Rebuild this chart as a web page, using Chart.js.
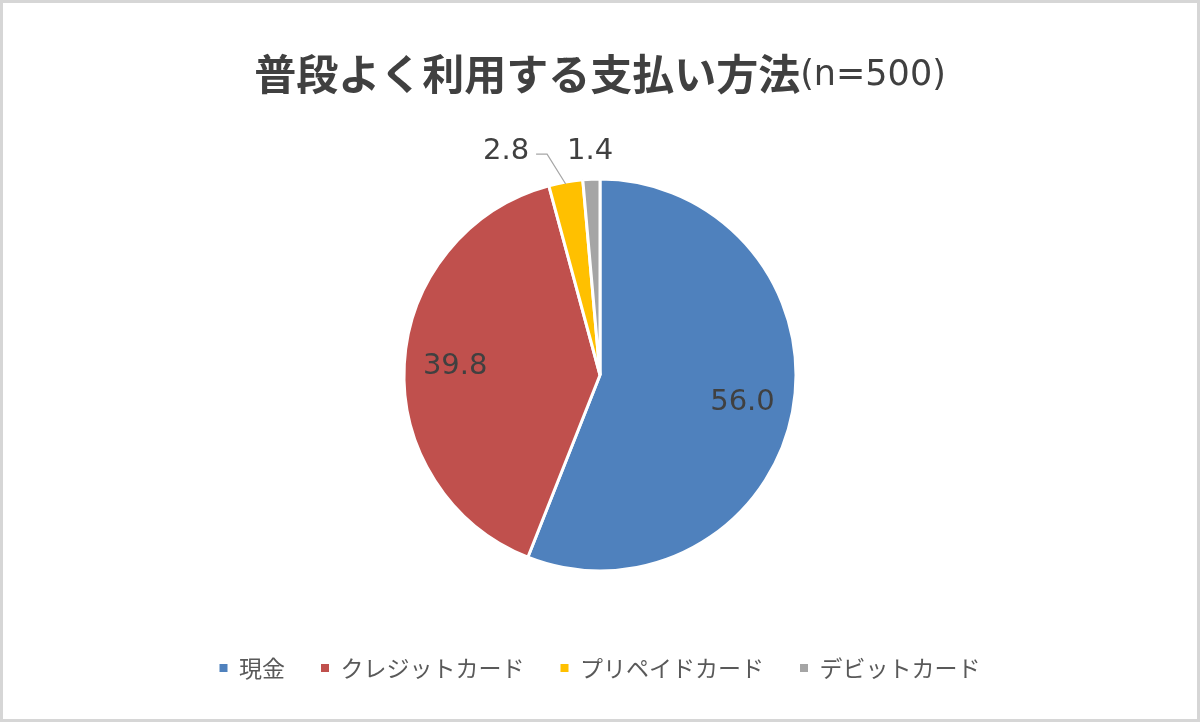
<!DOCTYPE html>
<html><head><meta charset="utf-8">
<script src="https://cdn.jsdelivr.net/npm/chart.js@4/dist/chart.umd.min.js"></script>
<style>html,body{margin:0;padding:0;background:#fff}canvas{display:block}</style>
</head><body>
<canvas id="c" width="1200" height="722"></canvas>
<script>
const titleMain = '普段よく利用する支払い方法';
const titleSub = '(n=500)';
const categories = ['現金', 'クレジットカード', 'プリペイドカード', 'デビットカード'];
const values = [56.0, 39.8, 2.8, 1.4];
const valueLabels = ['56.0', '39.8', '2.8', '1.4'];
const colors = ['#4F81BD', '#C0504D', '#FFC000', '#A5A5A5'];

const frameAndTitle = {
  id: 'frameAndTitle',
  beforeDraw(chart) {
    const ctx = chart.ctx;
    ctx.save();
    ctx.fillStyle = '#ffffff';
    ctx.fillRect(0, 0, chart.width, chart.height);
    ctx.strokeStyle = '#d6d6d6';
    ctx.lineWidth = 3;
    ctx.strokeRect(1.5, 1.5, chart.width - 3, chart.height - 3);
    const f1 = 'bold 42px "Noto Sans CJK JP"';
    const f2 = '35px "DejaVu Sans"';
    ctx.font = f1; const w1 = ctx.measureText(titleMain).width;
    ctx.font = f2; const w2 = ctx.measureText(titleSub).width;
    const x0 = chart.width / 2 - (w1 + w2) / 2;
    ctx.fillStyle = '#404040';
    ctx.textBaseline = 'middle';
    ctx.textAlign = 'left';
    ctx.font = f1; ctx.fillText(titleMain, x0, 74);
    ctx.font = f2; ctx.fillText(titleSub, x0 + w1, 76);
    ctx.restore();
  }
};

const valueLabelPlugin = {
  id: 'valueLabels',
  afterDatasetsDraw(chart) {
    const meta = chart.getDatasetMeta(0);
    const ctx = chart.ctx;
    ctx.save();
    ctx.font = '29px "DejaVu Sans"';
    ctx.fillStyle = '#404040';
    ctx.textBaseline = 'middle';
    ctx.textAlign = 'center';
    const outside = [];
    meta.data.forEach((arc, i) => {
      const p = arc.getProps(['x', 'y', 'startAngle', 'endAngle', 'outerRadius'], true);
      const mid = (p.startAngle + p.endAngle) / 2;
      const text = valueLabels[i];
      if (p.endAngle - p.startAngle > 0.4) {
        const f = 0.74;
        ctx.fillText(text, p.x + Math.cos(mid) * p.outerRadius * f, p.y + Math.sin(mid) * p.outerRadius * f);
      } else {
        const lr = p.outerRadius + 28;
        outside.push({
          text,
          ax: p.x + Math.cos(mid) * p.outerRadius,
          ay: p.y + Math.sin(mid) * p.outerRadius,
          lx: p.x + Math.cos(mid) * lr,
          ly: p.y + Math.sin(mid) * lr,
          w: ctx.measureText(text).width,
          shifted: false
        });
      }
    });
    for (let k = outside.length - 2; k >= 0; k--) {
      const cur = outside[k], nxt = outside[k + 1];
      const limit = nxt.lx - nxt.w / 2 - 38;
      if (cur.lx + cur.w / 2 > limit) {
        cur.lx = limit - cur.w / 2;
        cur.ly = nxt.ly;
        cur.shifted = true;
      }
    }
    outside.forEach(o => {
      ctx.fillStyle = '#404040';
      ctx.fillText(o.text, o.lx, o.ly);
      if (o.shifted) {
        ctx.strokeStyle = '#a6a6a6';
        ctx.lineWidth = 1.2;
        ctx.beginPath();
        const sx = o.lx + o.w / 2 + 7;
        ctx.moveTo(sx, o.ly + 3);
        ctx.lineTo(sx + 11, o.ly + 3);
        ctx.lineTo(o.ax, o.ay + 2);
        ctx.stroke();
      }
    });
    ctx.restore();
  }
};

new Chart(document.getElementById('c'), {
  type: 'pie',
  data: {
    labels: categories,
    datasets: [{
      data: values,
      backgroundColor: colors,
      borderColor: '#ffffff',
      borderWidth: 3,
      radius: 196
    }]
  },
  options: {
    responsive: false,
    animation: false,
    layout: { padding: { top: 129.5, bottom: 32.5, left: 0, right: 0 } },
    plugins: {
      tooltip: { enabled: false },
      title: { display: false },
      legend: {
        position: 'bottom',
        labels: {
          boxWidth: 8,
          boxHeight: 8,
          padding: 36,
          color: '#595959',
          font: { size: 23, family: '"Noto Sans CJK JP"' },
          generateLabels(chart) {
            const items = Chart.overrides.pie.plugins.legend.labels.generateLabels(chart);
            items.forEach(it => { it.lineWidth = 0; it.strokeStyle = 'rgba(0,0,0,0)'; });
            return items;
          }
        }
      }
    }
  },
  plugins: [frameAndTitle, valueLabelPlugin]
});
</script>
</body></html>
